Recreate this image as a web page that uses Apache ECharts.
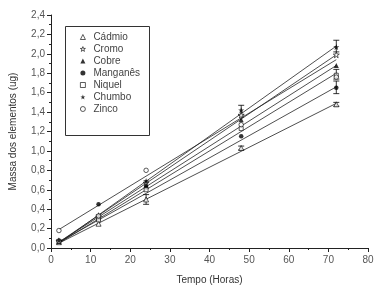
<!DOCTYPE html>
<html>
<head>
<meta charset="utf-8">
<script src="https://cdn.jsdelivr.net/npm/echarts@6/dist/echarts.min.js"></script>
<style>
html,body{margin:0;padding:0;background:#fff;}
#chart{width:379px;height:294px;}
</style>
</head>
<body>
<div id="chart"></div>
<script>
// horas de coleta
var tempos = [2, 12, 24, 48, 72];
var nomes = ['Cádmio', 'Cromo', 'Cobre', 'Manganês', 'Niquel', 'Chumbo', 'Zinco'];

// massa (ug) por elemento
var cadmio   = [0.06, 0.25, 0.50, 1.03, 1.48];
var cromo    = [0.07, 0.32, 0.67, 1.37, 1.99];
var cobre    = [0.07, 0.31, 0.65, 1.32, 1.88];
var manganes = [0.07, 0.45, 0.62, 1.15, 1.65];
var niquel   = [0.07, 0.29, 0.60, 1.23, 1.78];
var chumbo   = [0.08, 0.34, 0.69, 1.42, 2.07];
var zinco    = [0.18, 0.33, 0.80, 1.27, 1.76];

// retas ajustadas: valor em t=2 e t=72
var retaInicio = [0.05, 0.06, 0.06, 0.06, 0.05, 0.05, 0.19];
var retaFim    = [1.49, 1.99, 1.88, 1.66, 1.80, 2.08, 1.94];

// barras de erro: tempo, minimo, maximo
var erroX   = [24, 48, 48, 72, 72, 72, 72];
var erroMin = [0.45, 1.01, 1.37, 2.02, 1.59, 1.74, 1.46];
var erroMax = [0.55, 1.05, 1.47, 2.14, 1.72, 1.84, 1.50];

// marcas
var yTicks = [0, 0.2, 0.4, 0.6, 0.8, 1.0, 1.2, 1.4, 1.6, 1.8, 2.0, 2.2, 2.4];

var estrela = 'path://M0,-10L2.35,-3.24L9.51,-3.09L3.8,1.24L5.88,8.09L0,4L-5.88,8.09L-3.8,1.24L-9.51,-3.09L-2.35,-3.24Z';
var simbolos = ['triangle', estrela, 'triangle', 'circle', 'rect', estrela, 'circle'];
var vazio = [true, true, false, false, true, false, true];
var tamanhos = [5, 6, 5, 4.5, 4, 6, 4.5];
var valores = [cadmio, cromo, cobre, manganes, niquel, chumbo, zinco];

var myChart = echarts.init(document.getElementById('chart'));

function estilo(i) {
    return {
        color: vazio[i] ? '#fff' : '#000',
        borderColor: '#000',
        borderWidth: vazio[i] ? 0.8 : 0
    };
}

var series = [];
nomes.forEach(function (nome, i) {
    series.push({
        name: nome + '_reta',
        type: 'line',
        data: [[2, retaInicio[i]], [72, retaFim[i]]],
        symbol: 'none',
        silent: true,
        lineStyle: {color: '#222', width: 0.8},
        z: 2
    });
});
nomes.forEach(function (nome, i) {
    series.push({
        name: nome,
        type: 'scatter',
        data: tempos.map(function (t, k) { return [t, valores[i][k]]; }),
        symbol: simbolos[i],
        symbolSize: tamanhos[i],
        itemStyle: estilo(i),
        z: 4
    });
});
series.push({
    name: 'erro',
    type: 'custom',
    data: erroX.map(function (x, k) { return [x, erroMin[k], erroMax[k]]; }),
    renderItem: function (params, api) {
        var lo = api.coord([api.value(0), api.value(1)]);
        var hi = api.coord([api.value(0), api.value(2)]);
        var w = 3;
        var st = {stroke: '#000', lineWidth: 0.8};
        return {
            type: 'group',
            children: [
                {type: 'line', shape: {x1: lo[0], y1: lo[1], x2: hi[0], y2: hi[1]}, style: st},
                {type: 'line', shape: {x1: lo[0] - w, y1: lo[1], x2: lo[0] + w, y2: lo[1]}, style: st},
                {type: 'line', shape: {x1: hi[0] - w, y1: hi[1], x2: hi[0] + w, y2: hi[1]}, style: st}
            ]
        };
    },
    z: 3
});

var options = {
    backgroundColor: '#fff',
    animation: false,
    textStyle: {fontFamily: 'Liberation Sans, Arial, sans-serif'},
    grid: {left: 49, right: 11, top: 15, bottom: 46},
    graphic: [{
        type: 'rect',
        left: 63, top: 24,
        shape: {width: 84, height: 109},
        style: {fill: 'none', stroke: '#333', lineWidth: 1},
        z: 10
    }],
    legend: {
        data: nomes.map(function (nome, i) {
            return {name: nome, icon: simbolos[i], itemStyle: estilo(i)};
        }),
        orient: 'vertical',
        left: 80, top: 32,
        itemWidth: 5, itemHeight: 5,
        itemGap: 2,
        padding: 0,
        textStyle: {fontSize: 10, color: '#444', padding: [0, 0, 0, 3],
            fontFamily: 'Liberation Sans, Arial, sans-serif'}
    },
    xAxis: {
        type: 'value',
        min: 0, max: 80, interval: 10,
        name: 'Tempo (Horas)',
        nameLocation: 'middle',
        nameGap: 27,
        nameTextStyle: {fontSize: 10, color: '#333'},
        axisLine: {lineStyle: {color: '#222', width: 1}},
        axisTick: {show: true, length: 4, lineStyle: {color: '#222'}},
        minorTick: {show: true, splitNumber: 2, length: 2, lineStyle: {color: '#222'}},
        axisLabel: {fontSize: 10, color: '#555', margin: 7},
        splitLine: {show: false}
    },
    yAxis: {
        type: 'value',
        min: 0, max: 2.4, interval: 0.2,
        name: 'Massa dos elementos (ug)',
        nameLocation: 'middle',
        nameGap: 33,
        nameTextStyle: {fontSize: 10, color: '#333'},
        axisLine: {show: true, lineStyle: {color: '#222', width: 1}},
        axisTick: {show: true, length: 4, lineStyle: {color: '#222'}},
        minorTick: {show: true, splitNumber: 2, length: 2, lineStyle: {color: '#222'}},
        axisLabel: {
            fontSize: 10, color: '#555', margin: 6,
            formatter: function (v) {
                var idx = yTicks.findIndex(function (t) { return Math.abs(t - v) < 1e-6; });
                return idx < 0 ? '' : yTicks[idx].toFixed(1).replace('.', ',');
            }
        },
        splitLine: {show: false}
    },
    series: series
};
myChart.setOption(options);
</script>
</body>
</html>
